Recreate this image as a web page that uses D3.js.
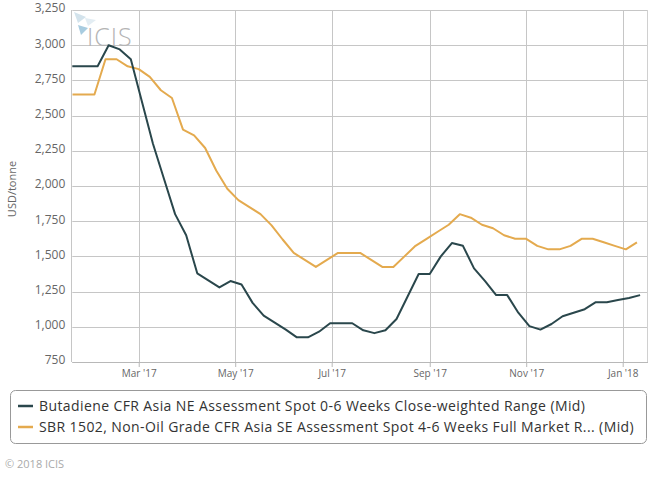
<!DOCTYPE html>
<html><head><meta charset="utf-8">
<script src="https://cdn.jsdelivr.net/npm/d3@7"></script>
<style>body{margin:0;background:#fff;} svg{display:block;font-family:"Open Sans",sans-serif;}</style>
</head><body><svg id="c" width="668" height="478"></svg>
<script>
const butadieneName = "Butadiene CFR Asia NE Assessment Spot 0-6 Weeks Close-weighted Range (Mid)";
const sbrName = "SBR 1502, Non-Oil Grade CFR Asia SE Assessment Spot 4-6 Weeks Full Market R... (Mid)";

const butadieneDates = ["2017-01-13","2017-01-20","2017-01-27","2017-02-03","2017-02-10","2017-02-17","2017-02-24",
 "2017-03-03","2017-03-10","2017-03-17","2017-03-24","2017-03-31","2017-04-07","2017-04-14","2017-04-21","2017-04-28",
 "2017-05-05","2017-05-12","2017-05-19","2017-05-26","2017-06-02","2017-06-09","2017-06-16","2017-06-23","2017-06-30",
 "2017-07-07","2017-07-14","2017-07-21","2017-07-28","2017-08-04","2017-08-11","2017-08-18","2017-08-25",
 "2017-09-01","2017-09-08","2017-09-15","2017-09-22","2017-09-29","2017-10-06","2017-10-13","2017-10-20","2017-10-27",
 "2017-11-03","2017-11-10","2017-11-17","2017-11-24","2017-12-01","2017-12-08","2017-12-15","2017-12-22","2017-12-29",
 "2018-01-05","2018-01-12"];
const butadieneValues = [2850,2850,2850,2850,3000,2970,2900,
 2600,2300,2050,1800,1650,1380,1330,1280,1325,
 1300,1170,1080,1030,980,925,925,965,1025,
 1025,1025,975,955,975,1055,1215,1375,
 1375,1500,1595,1575,1415,1325,1225,1225,1100,
 1005,980,1020,1075,1100,1125,1175,1175,1190,
 1205,1225];

const sbrDates = ["2017-01-18","2017-01-25","2017-02-01","2017-02-08","2017-02-15","2017-02-22",
 "2017-03-01","2017-03-08","2017-03-15","2017-03-22","2017-03-29","2017-04-05","2017-04-12","2017-04-19","2017-04-26",
 "2017-05-03","2017-05-10","2017-05-17","2017-05-24","2017-05-31","2017-06-07","2017-06-14","2017-06-21","2017-06-28",
 "2017-07-05","2017-07-12","2017-07-19","2017-07-26","2017-08-02","2017-08-09","2017-08-16","2017-08-23","2017-08-30",
 "2017-09-06","2017-09-13","2017-09-20","2017-09-27","2017-10-04","2017-10-11","2017-10-18","2017-10-25",
 "2017-11-01","2017-11-08","2017-11-15","2017-11-22","2017-11-29","2017-12-06","2017-12-13","2017-12-20","2017-12-27",
 "2018-01-03","2018-01-10"];
const sbrValues = [2650,2650,2650,2900,2900,2850,
 2830,2775,2680,2625,2400,2360,2270,2110,1980,
 1900,1850,1800,1720,1620,1525,1475,1425,1475,
 1525,1525,1525,1475,1425,1425,1500,1575,1625,
 1675,1725,1800,1775,1725,1700,1650,1625,
 1625,1575,1550,1550,1575,1625,1625,1600,1575,
 1550,1600];

const yTickValues = [750,1000,1250,1500,1750,2000,2250,2500,2750,3000,3250];
const xTickDates = ["2017-03-01","2017-05-01","2017-07-01","2017-09-01","2017-11-01","2018-01-01"];
const xDomain = ["2017-01-18","2018-01-17"];
const yTitle = "USD/tonne";
const credit = "\u00a9 2018 ICIS";

const colors = {butadiene:"#2a474c", sbr:"#e4aa4e"};

const parse = d3.timeParse("%Y-%m-%d");
const svg = d3.select("#c");
const L = 72.3, R = 648, T = 10, B = 362;

const x = d3.scaleTime().domain(xDomain.map(parse)).range([L, R]);
const y = d3.scaleLinear().domain([750, 3250]).range([B, T]);

// gridlines
const grid = svg.append("g");
grid.selectAll("line.h").data(yTickValues).join("line")
  .attr("x1", L).attr("x2", R)
  .attr("y1", d => Math.round(y(d)) + 0.5).attr("y2", d => Math.round(y(d)) + 0.5)
  .attr("stroke", "#c6c6c6").attr("stroke-width", 1);
grid.selectAll("line.v").data(xTickDates.map(parse)).join("line")
  .attr("y1", T).attr("y2", B)
  .attr("x1", d => Math.round(x(d)) + 0.5).attr("x2", d => Math.round(x(d)) + 0.5)
  .attr("stroke", "#c6c6c6").attr("stroke-width", 1);
grid.append("line").attr("x1", Math.round(L)-0.5).attr("x2", Math.round(L)-0.5).attr("y1", T).attr("y2", B).attr("stroke", "#c6c6c6");
grid.append("line").attr("x1", Math.round(R)-0.5).attr("x2", Math.round(R)-0.5).attr("y1", T).attr("y2", B).attr("stroke", "#d0d0d0");

// watermark
const wm = svg.append("g");
wm.append("polygon").attr("points", "74,12 86,17 78,23").attr("fill", "#d3e3ec");
wm.append("polygon").attr("points", "85,18 96,20 88,26").attr("fill", "#e3edf3");
wm.append("polygon").attr("points", "78,25 88,28 81,35").attr("fill", "#a8cce0");
wm.append("text").attr("x", 87).attr("y", 46).attr("font-size", 25).attr("font-weight", 300)
  .attr("fill", "#b4b4b4").attr("letter-spacing", 1).text("ICIS");

// y axis
const yAxis = d3.axisLeft(y).tickValues(yTickValues).tickSize(0).tickFormat(d3.format(","));
const gy = svg.append("g").attr("transform", `translate(${L - 5},-2)`).call(yAxis);
gy.select(".domain").remove();
gy.selectAll("text").attr("font-size", 12).attr("fill", "#666").attr("font-family", "'Open Sans',sans-serif").attr("x", -2);

// x axis
const xAxis = d3.axisBottom(x).tickValues(xTickDates.map(parse)).tickSize(5).tickPadding(3).tickFormat(d3.timeFormat("%b '%y"));
const gx = svg.append("g").attr("transform", `translate(0,${B})`).call(xAxis);
gx.select(".domain").attr("stroke", "#b8b8b8").attr("d", `M${L},0.5H${R}`);
gx.selectAll(".tick line").attr("stroke", "#b8b8b8");
gx.selectAll("text").attr("font-size", 10).attr("fill", "#666").attr("font-family", "'Open Sans',sans-serif");

// y title
svg.append("text").attr("transform", "translate(16,189) rotate(-90)")
  .attr("text-anchor", "middle").attr("font-size", 11).attr("fill", "#666").text(yTitle);

// lines
svg.append("clipPath").attr("id", "clip").append("rect").attr("x", L).attr("y", 0).attr("width", R - L).attr("height", 478);
const line = d3.line().x(d => x(d[0])).y(d => y(d[1]));
const plot = svg.append("g").attr("clip-path", "url(#clip)");
plot.append("path").datum(sbrDates.map((d, i) => [parse(d), sbrValues[i]]))
  .attr("d", line).attr("fill", "none").attr("stroke", colors.sbr).attr("stroke-width", 2).attr("stroke-linejoin", "round");
plot.append("path").datum(butadieneDates.map((d, i) => [parse(d), butadieneValues[i]]))
  .attr("d", line).attr("fill", "none").attr("stroke", colors.butadiene).attr("stroke-width", 2).attr("stroke-linejoin", "round");

// legend
const lg = svg.append("g");
lg.append("rect").attr("x", 10.5).attr("y", 390.5).attr("width", 636).attr("height", 53).attr("rx", 5)
  .attr("fill", "none").attr("stroke", "#999");
const items = [{name: butadieneName, color: colors.butadiene}, {name: sbrName, color: colors.sbr}];
const it = lg.selectAll("g.item").data(items).join("g").attr("transform", (d, i) => `translate(0,${406 + i * 21})`);
it.append("line").attr("x1", 18).attr("x2", 33).attr("y1", 0).attr("y2", 0).attr("stroke", d => d.color).attr("stroke-width", 2.5);
const lt = it.append("text").attr("x", 39).attr("y", 5).attr("font-size", 14).attr("fill", "#333").text(d => d.name);
const w0 = lt.nodes()[0].getComputedTextLength();
const ls = Math.max(0, (546 - w0) / butadieneName.length);
lt.attr("letter-spacing", ls.toFixed(2));

// credit
svg.append("text").attr("x", 5).attr("y", 468).attr("font-size", 11).attr("fill", "#aaa").text(credit);
</script></body></html>
